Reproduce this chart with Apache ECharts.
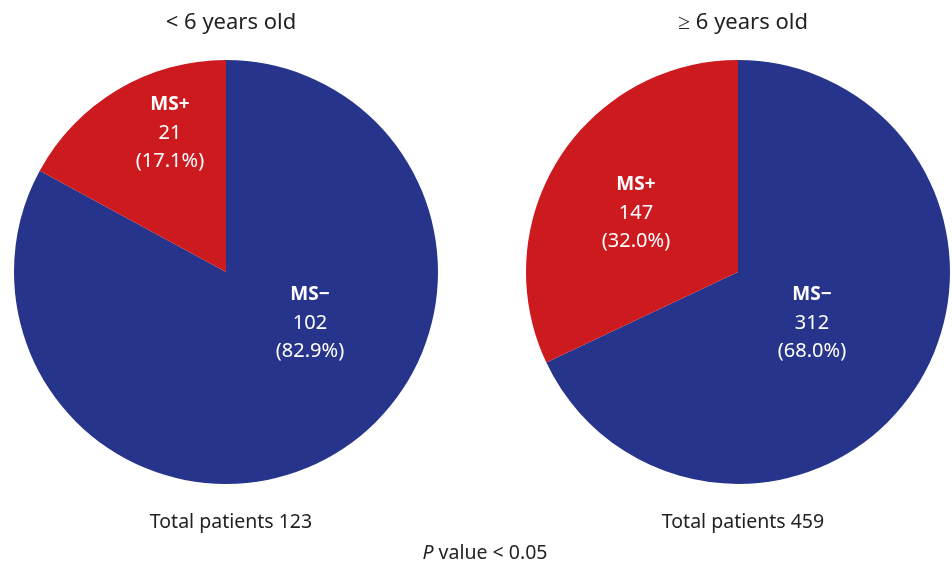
<!DOCTYPE html>
<html>
<head>
<meta charset="utf-8">
<script src="https://cdn.jsdelivr.net/npm/echarts@6/dist/echarts.min.js"></script>
<style>
  html, body { margin: 0; padding: 0; background: #fff; }
  #chart { width: 952px; height: 562px; }
</style>
</head>
<body>
<div id="chart"></div>
<script>
// data
const groups = ["< 6 years old", "\u2265 6 years old"];
const categories = ["MS\u2212", "MS+"];
const under6 = [102, 21];
const over6 = [312, 147];
const totals = [123, 459];

const BLUE = "#27348b";
const RED = "#cc1a1f";
const FONT = "Noto Sans";

// label anchor points (center of each label block)
const labelPos = [
  [[310, 323], [170, 133]],
  [[812, 323], [636, 213]],
];

const chart = echarts.init(document.getElementById("chart"));

function makeSeries(values, idx, cx) {
  const sum = values.reduce((a, b) => a + b, 0);
  return {
    type: "pie",
    center: [cx, 272],
    radius: [0, 212],
    startAngle: 90,
    clockwise: true,
    animation: false,
    silent: true,
    data: categories.map((c, i) => ({
      name: c,
      value: values[i],
      itemStyle: { color: i === 0 ? BLUE : RED },
    })),
    label: {
      show: true,
      position: "inside",
      color: "#fff",
      fontFamily: FONT,
      fontSize: 20,
      lineHeight: 28,
      formatter: (p) =>
        "{b|" + p.name + "}\n" + p.value + "\n(" + ((p.value / sum) * 100).toFixed(1) + "%)",
      rich: {
        b: { fontWeight: "bold", fontSize: 19, color: "#fff", fontFamily: FONT, lineHeight: 28 },
      },
    },
    labelLine: { show: false },
    labelLayout: (p) => ({
      x: labelPos[idx][p.dataIndex][0],
      y: labelPos[idx][p.dataIndex][1],
      align: "center",
      verticalAlign: "middle",
    }),
  };
}

const textStyle = { fontFamily: FONT, fontSize: 22, fontWeight: "normal", color: "#222" };
const subStyle = { fontFamily: FONT, fontSize: 19.5, fontWeight: "normal", color: "#222" };

chart.setOption({
  backgroundColor: "#fff",
  title: [
    { text: groups[0], left: 226, top: 7, textAlign: "center", textStyle },
    { text: groups[1], left: 738, top: 7, textAlign: "center", textStyle },
    { text: "Total patients " + totals[0], left: 226, top: 507, textAlign: "center", textStyle: subStyle },
    { text: "Total patients " + totals[1], left: 738, top: 507, textAlign: "center", textStyle: subStyle },
    {
      text: "{i|P} value < 0.05",
      left: 480,
      top: 538,
      textAlign: "center",
      textStyle: {
        ...subStyle,
        rich: { i: { fontStyle: "italic", fontFamily: FONT, fontSize: 19.5, color: "#222" } },
      },
    },
  ],
  series: [makeSeries(under6, 0, 226), makeSeries(over6, 1, 738)],
});
</script>
</body>
</html>
